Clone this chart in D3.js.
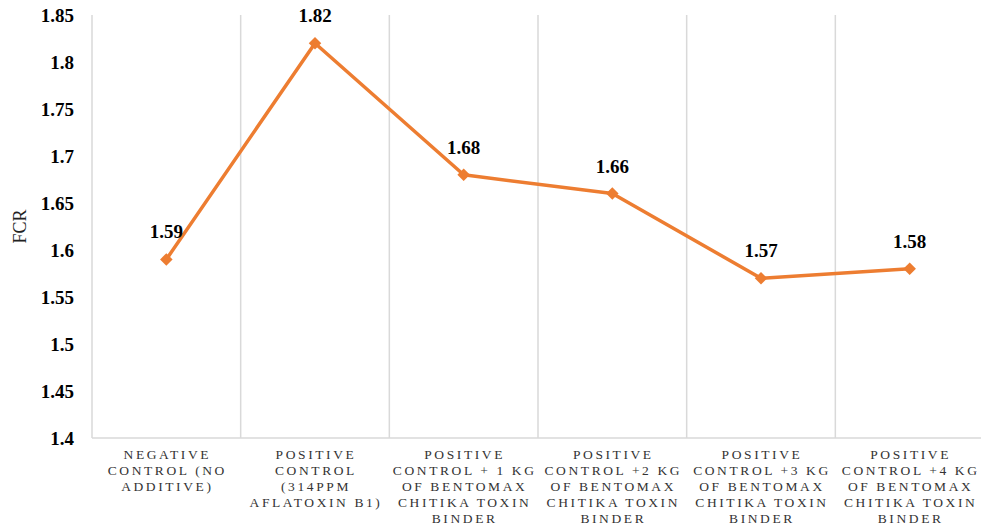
<!DOCTYPE html>
<html>
<head>
<meta charset="utf-8">
<script src="https://cdn.jsdelivr.net/npm/d3@7"></script>
<style>
  body { margin: 0; background: #fff; }
  svg text { font-family: "Liberation Serif", "DejaVu Serif", serif; }
</style>
</head>
<body>
<div id="chart"></div>
<script>
const categories = [
    ["NEGATIVE", "CONTROL (NO", "ADDITIVE)"],
    ["POSITIVE", "CONTROL", "(314PPM", "AFLATOXIN B1)"],
    ["POSITIVE", "CONTROL + 1 KG", "OF BENTOMAX", "CHITIKA TOXIN", "BINDER"],
    ["POSITIVE", "CONTROL +2 KG", "OF BENTOMAX", "CHITIKA TOXIN", "BINDER"],
    ["POSITIVE", "CONTROL +3 KG", "OF BENTOMAX", "CHITIKA TOXIN", "BINDER"],
    ["POSITIVE", "CONTROL +4 KG", "OF BENTOMAX", "CHITIKA TOXIN", "BINDER"]
];
const fcr = [1.59, 1.82, 1.68, 1.66, 1.57, 1.58];
const yTicks = [1.4, 1.45, 1.5, 1.55, 1.6, 1.65, 1.7, 1.75, 1.8, 1.85];

const width = 981, height = 527;
const margin = { top: 15, right: -3, bottom: 89, left: 92 };

const svg = d3.select("#chart").append("svg")
    .attr("width", width).attr("height", height);

const x = d3.scaleBand().domain(d3.range(categories.length))
    .range([margin.left, width - margin.right]);
const y = d3.scaleLinear().domain([1.4, 1.85])
    .range([height - margin.bottom, margin.top]);

// vertical grid lines at category boundaries
const bounds = d3.range(categories.length + 1).map(i => margin.left + i * x.bandwidth());
svg.append("g").selectAll("line").data(bounds).enter().append("line")
    .attr("x1", d => d).attr("x2", d => d)
    .attr("y1", y(1.85)).attr("y2", y(1.4))
    .attr("stroke", "#d9d9d9").attr("stroke-width", 1.5);

// bottom axis line
svg.append("line")
    .attr("x1", margin.left).attr("x2", width)
    .attr("y1", y(1.4)).attr("y2", y(1.4))
    .attr("stroke", "#d9d9d9").attr("stroke-width", 1.5);

// y tick labels
const yAxis = svg.append("g")
    .attr("transform", `translate(${margin.left - 18},0)`)
    .call(d3.axisLeft(y).tickValues(yTicks).tickSize(0).tickPadding(0).tickFormat(d3.format("")));
yAxis.attr("font-family", null);
yAxis.select(".domain").remove();
yAxis.selectAll("text")
    .attr("font-size", 19).attr("font-weight", "bold").attr("fill", "#000");

// y title
svg.append("text")
    .attr("transform", `translate(26,${y(1.625)}) rotate(-90)`)
    .attr("text-anchor", "middle")
    .attr("font-size", 18).attr("fill", "#222")
    .text("FCR");

// category labels
const cat = svg.append("g").selectAll("text").data(categories).enter().append("text")
    .attr("text-anchor", "middle")
    .attr("font-size", 13.5).attr("letter-spacing", 2.6).attr("fill", "#333");
cat.each(function(lines, i) {
    const t = d3.select(this);
    lines.forEach((ln, j) => {
        t.append("tspan")
            .attr("x", x(i) + x.bandwidth() / 2 + 1)
            .attr("y", y(1.4) + 21 + j * 16)
            .text(ln);
    });
});

// line
const line = d3.line().x((d, i) => x(i) + x.bandwidth() / 2).y(d => y(d));
svg.append("path").datum(fcr)
    .attr("d", line)
    .attr("fill", "none").attr("stroke", "#ed7d31").attr("stroke-width", 3.5)
    .attr("stroke-linejoin", "round");

// markers
svg.append("g").selectAll("path").data(fcr).enter().append("path")
    .attr("d", d3.symbol().type(d3.symbolDiamond2).size(100))
    .attr("transform", (d, i) => `translate(${x(i) + x.bandwidth() / 2},${y(d)})`)
    .attr("fill", "#ed7d31");

// data labels
svg.append("g").selectAll("text").data(fcr).enter().append("text")
    .attr("x", (d, i) => x(i) + x.bandwidth() / 2)
    .attr("y", d => y(d) - 21)
    .attr("text-anchor", "middle")
    .attr("font-size", 19).attr("font-weight", "bold").attr("fill", "#000")
    .text(d => d3.format(".2f")(d));
</script>
</body>
</html>
